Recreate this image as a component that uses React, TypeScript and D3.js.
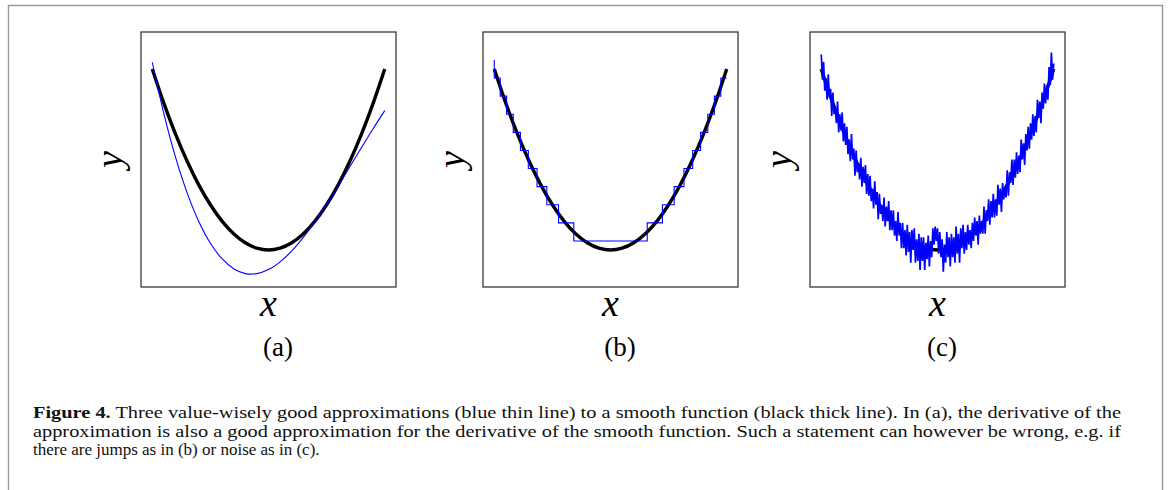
import React from "react";
import * as d3 from "d3";

// sample grid for the smooth curves (x from -1 to 1)
const xGrid = [-1, -0.9, -0.8, -0.7, -0.6, -0.5, -0.4, -0.3, -0.2, -0.1, 0, 0.1, 0.2, 0.3, 0.4, 0.5, 0.6, 0.7, 0.8, 0.9, 1];

// black thick line (the smooth function)
const smoothY = [1, 0.81, 0.64, 0.49, 0.36, 0.25, 0.16, 0.09, 0.04, 0.01, 0, 0.01, 0.04, 0.09, 0.16, 0.25, 0.36, 0.49, 0.64, 0.81, 1];

// (a) blue thin approximation
const approxA = [1.037, 0.752, 0.513, 0.316, 0.158, 0.038, -0.048, -0.103, -0.13, -0.13, -0.108, -0.065, -0.005, 0.07, 0.156, 0.252, 0.354, 0.46, 0.566, 0.67, 0.77];

// (b) staircase approximation: jump positions and the level held after each
const stepX = [-1, -1, -0.949, -0.894, -0.837, -0.775, -0.707, -0.632, -0.548, -0.447, -0.316, 0.316, 0.447, 0.548, 0.632, 0.707, 0.775, 0.837, 0.894, 0.949, 1];
const stepY = [1.05, 0.95, 0.85, 0.75, 0.65, 0.55, 0.45, 0.35, 0.25, 0.15, 0.05, 0.15, 0.25, 0.35, 0.45, 0.55, 0.65, 0.75, 0.85, 0.95, 0.95];

// (c) noisy approximation, 201 samples evenly spread over x = -1 .. 1
const noisyY = [
  1.08, 0.94, 1.04, 0.88, 0.95, 0.83, 0.97, 0.84, 0.89, 0.74,
  0.87, 0.75, 0.79, 0.7, 0.82, 0.65, 0.75, 0.66, 0.76, 0.6,
  0.7, 0.58, 0.68, 0.53, 0.61, 0.49, 0.64, 0.5, 0.56, 0.41,
  0.55, 0.43, 0.48, 0.39, 0.51, 0.35, 0.46, 0.37, 0.47, 0.31,
  0.42, 0.3, 0.41, 0.27, 0.34, 0.23, 0.38, 0.25, 0.32, 0.17,
  0.31, 0.2, 0.25, 0.16, 0.29, 0.13, 0.24, 0.16, 0.27, 0.11,
  0.22, 0.11, 0.22, 0.08, 0.16, 0.05, 0.21, 0.08, 0.15, 0.01,
  0.15, 0.01, 0.11, -0.03, 0.14, -0.01, 0.1, -0.07, 0.11, 0.0,
  0.12, -0.07, 0.06, -0.06, 0.09, -0.11, 0.07, -0.06, 0.07, -0.11,
  0.04, -0.05, 0.08, -0.09, 0.05, -0.04, 0.12, 0.03, 0.13, 0.05,
  0.12, -0.02, 0.1, -0.04, 0.06, -0.12, 0.03, -0.07, 0.1, -0.04,
  0.07, -0.09, 0.09, -0.04, 0.07, -0.07, 0.13, -0.02, 0.09, -0.07,
  0.12, 0.01, 0.14, -0.02, 0.1, 0.0, 0.14, 0.03, 0.11, 0.01,
  0.15, 0.05, 0.18, 0.08, 0.16, 0.03, 0.19, 0.09, 0.16, 0.09,
  0.24, 0.09, 0.22, 0.16, 0.28, 0.14, 0.27, 0.18, 0.31, 0.18,
  0.28, 0.19, 0.36, 0.25, 0.34, 0.21, 0.37, 0.28, 0.35, 0.29,
  0.44, 0.3, 0.43, 0.37, 0.5, 0.36, 0.5, 0.4, 0.54, 0.42,
  0.52, 0.43, 0.61, 0.5, 0.59, 0.47, 0.64, 0.55, 0.68, 0.56,
  0.7, 0.61, 0.75, 0.63, 0.74, 0.65, 0.83, 0.73, 0.82, 0.7,
  0.87, 0.78, 0.92, 0.81, 0.91, 0.83, 1.01, 0.91, 1.09, 0.94,
  1.03,
];

const panelLeft = [141, 483, 810];
const panelTop = 32;
const panelSize = 255;
const tags = ["(a)", "(b)", "(c)"];
const tagCenter = [278, 620, 942];

const captionLine1 =
  " Three value-wisely good approximations (blue thin line) to a smooth function (black thick line). In (a), the derivative of the";
const captionLine2 =
  "approximation is also a good approximation for the derivative of the smooth function. Such a statement can however be wrong, e.g. if";
const captionLine3 = "there are jumps as in (b) or noise as in (c).";

const serif = "'Liberation Serif', 'Times New Roman', serif";

const Panel = ({ index }: { index: number }) => {
  const left = panelLeft[index];
  const x = d3.scaleLinear().domain([-1.097, 1.097]).range([left, left + panelSize]);
  const y = d3.scaleLinear().domain([-0.204, 1.204]).range([panelTop + panelSize, panelTop]);

  const smooth = d3
    .line<number>()
    .x((d, i) => x(xGrid[i]))
    .y((d) => y(d))
    .curve(d3.curveCatmullRom.alpha(0.5));

  let blue = "";
  let blueWidth = 1.1;
  if (index === 0) {
    blue = smooth(approxA) || "";
  } else if (index === 1) {
    blue =
      d3
        .line<number>()
        .x((d, i) => x(stepX[i]))
        .y((d) => y(d))
        .curve(d3.curveStepAfter)(stepY) || "";
  } else {
    const idx = d3.scaleLinear().domain([0, noisyY.length - 1]).range([-1, 1]);
    blue =
      d3
        .line<number>()
        .x((d, i) => x(idx(i)))
        .y((d) => y(d))(noisyY) || "";
    blueWidth = 1.7;
  }

  const cx = left + panelSize / 2;
  const cy = panelTop + panelSize / 2;

  return (
    <g>
      <path d={smooth(smoothY) || ""} fill="none" stroke="#000" strokeWidth={3.4} strokeLinejoin="round" />
      <path d={blue} fill="none" stroke="#0000ff" strokeWidth={blueWidth} strokeLinejoin="miter" />
      <rect x={left} y={panelTop} width={panelSize} height={panelSize} fill="none" stroke="#3a3a3a" strokeWidth={1.3} />
      <text x={cx} y={316} textAnchor="middle" style={{ fontFamily: serif, fontStyle: "italic", fontSize: 38 }} fill="#000">
        x
      </text>
      <text
        transform={`translate(${left - 19},${cy}) rotate(-90)`}
        textAnchor="middle"
        style={{ fontFamily: serif, fontStyle: "italic", fontSize: 38 }}
        fill="#000"
      >
        y
      </text>
      <text x={tagCenter[index]} y={356} textAnchor="middle" style={{ fontFamily: serif, fontSize: 27 }} fill="#000">
        {tags[index]}
      </text>
    </g>
  );
};

export default function App() {
  return (
    <svg
      width={1170}
      height={490}
      style={{ position: "absolute", left: 0, top: 0, background: "#fff" }}
    >
      <rect x={0} y={0} width={1170} height={490} fill="#fff" />
      <path d="M8.5,495 V5.5 H1162.5 V495" fill="none" stroke="#9a9a9a" strokeWidth={1.4} />
      {panelLeft.map((_, i) => (
        <Panel key={i} index={i} />
      ))}
      <g style={{ fontFamily: serif, fontSize: 17 }} fill="#111">
        <text x={33} y={418} textLength={1088} lengthAdjust="spacingAndGlyphs">
          <tspan fontWeight="bold">Figure 4.</tspan>
          {captionLine1}
        </text>
        <text x={33} y={437} textLength={1088} lengthAdjust="spacingAndGlyphs">
          {captionLine2}
        </text>
        <text x={33} y={455}>
          {captionLine3}
        </text>
      </g>
    </svg>
  );
}
